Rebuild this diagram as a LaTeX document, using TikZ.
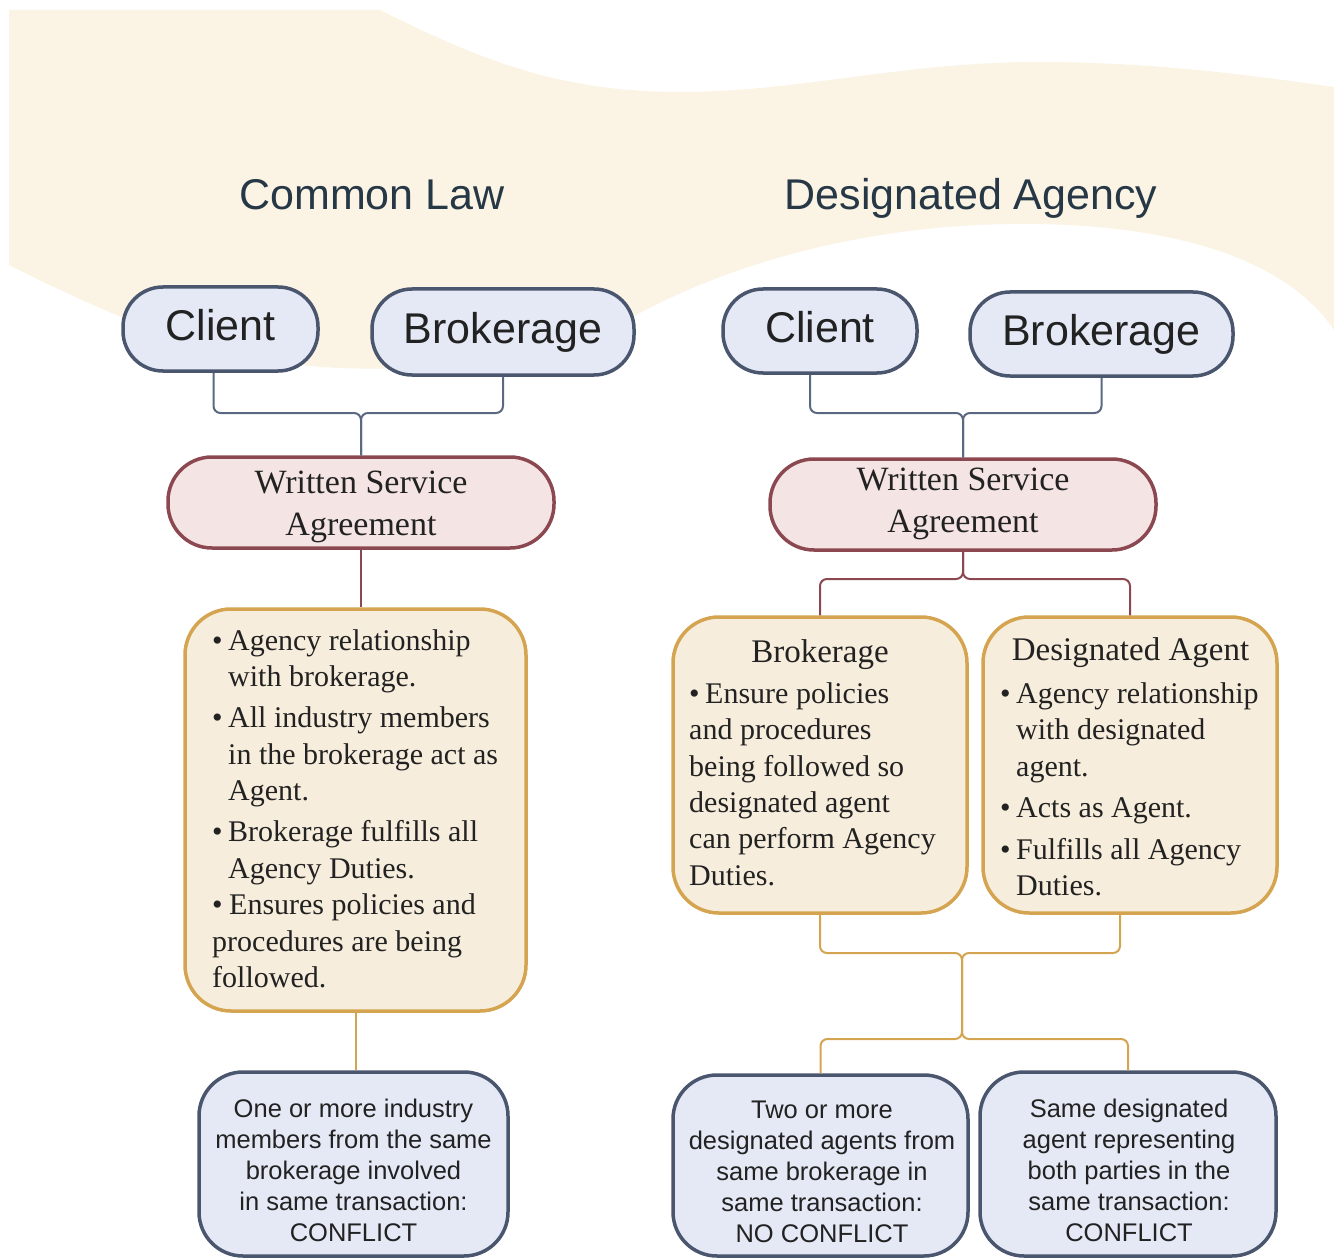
\documentclass[tikz,border=0pt]{standalone}
\usepackage{fontspec}
\setmainfont{Liberation Serif}
\newfontfamily\sansf{Liberation Sans}
\usetikzlibrary{calc}
\definecolor{bgBeige}{HTML}{FBF3E4}
\definecolor{blueFill}{HTML}{E4E9F5}
\definecolor{blueLine}{HTML}{4A556E}
\definecolor{pinkFill}{HTML}{F5E4E4}
\definecolor{pinkLine}{HTML}{8C4850}
\definecolor{goldFill}{HTML}{F7EDDC}
\definecolor{goldLine}{HTML}{D4A450}
\definecolor{titleCol}{HTML}{263746}
\definecolor{connBlue}{HTML}{5A6882}
\definecolor{textDark}{HTML}{222222}
\newcommand\tstrut{\rule{0pt}{30pt}}
\newcommand\bul{\makebox[16pt][l]{•}}
\newcommand\hang{\hspace*{16pt}}
\begin{document}
\begin{tikzpicture}[x=1pt,y=-1pt,
  titletext/.style={font=\sansf\fontsize{43}{50}\selectfont, text=titleCol, inner sep=0, anchor=base},
  pillbox/.style={draw=blueLine, fill=blueFill, line width=3.5pt, rounded corners=40pt, inner sep=0,
     font=\sansf\fontsize{43}{50}\selectfont, text=textDark, text height=31pt, text depth=9pt},
  pinkbox/.style={draw=pinkLine, fill=pinkFill, line width=3.5pt, rounded corners=44pt, inner sep=0},
  goldbox/.style={draw=goldLine, fill=goldFill, line width=3.5pt, rounded corners=46pt, inner sep=0},
  bluebox/.style={draw=blueLine, fill=blueFill, line width=3.5pt, rounded corners=44pt, inner sep=0},
  serifbig/.style={font=\fontsize{34}{42}\selectfont, text=textDark, inner sep=0, align=center, anchor=north},
  seriftext/.style={font=\fontsize{30}{36.5}\selectfont, text=textDark, inner sep=0, align=left, anchor=north west},
  seriftitle/.style={font=\fontsize{33}{40}\selectfont, text=textDark, inner sep=0, anchor=base},
  sanstext/.style={font=\sansf\fontsize{25.5}{31}\selectfont, text=textDark, inner sep=0, align=center, anchor=north},
  conn/.style={line width=2pt, rounded corners=7pt}
]
\useasboundingbox (0,0) rectangle (1334,1260);
% background wave
\fill[bgBeige] (9,10) -- (380,10)
  .. controls (480,60) and (560,92) .. (680,92)
  .. controls (800,92) and (900,62) .. (1040,62)
  .. controls (1150,62) and (1250,75) .. (1334,87)
  -- (1334,330)
  .. controls (1280,250) and (1150,222) .. (1010,224)
  .. controls (850,226) and (720,270) .. (640,313)
  .. controls (560,355) and (450,372) .. (340,368)
  .. controls (200,362) and (80,300) .. (9,265) -- cycle;

% titles
\node[titletext] (t1) at (372,210) {Common Law};
\node[titletext] (t2) at (971,210) {Designated Agency};

% pills
\node[pillbox, minimum width=195pt, minimum height=84pt] (cl1) at (220.5,329) {Client};
\node[pillbox, minimum width=262pt, minimum height=86pt] (br1) at (503,332) {Brokerage};
\node[pillbox, minimum width=194pt, minimum height=84pt] (cl2) at (820,331) {Client};
\node[pillbox, minimum width=263pt, minimum height=84pt] (br2) at (1101.5,334) {Brokerage};

% written service agreements
\node[pinkbox, minimum width=386pt, minimum height=91pt] (w1) at (361,502.5) {};
\node[serifbig] (w1t) at (361,463) {\tstrut Written Service\\Agreement};
\node[pinkbox, minimum width=386pt, minimum height=91pt] (w2) at (963,504.5) {};
\node[serifbig] (w2t) at (963,460) {\tstrut Written Service\\Agreement};

% gold boxes
\node[goldbox, minimum width=341pt, minimum height=402pt] (o1) at (355.5,810) {};
\node[seriftext] (o1t) at (212,620) {\tstrut\bul Agency relationship\\
\hang with brokerage.\\[4.5pt]
\bul All industry members\\
\hang in the brokerage act as\\
\hang Agent.\\[4.5pt]
\bul Brokerage fulfills all\\
\hang Agency Duties.\\
\makebox[17pt][l]{•}Ensures policies and\\
procedures are being\\
followed.};

\node[goldbox, minimum width=294pt, minimum height=296pt] (o2) at (820,765) {};
\node[seriftitle] (o2h) at (820,662) {Brokerage};
\node[seriftext, font=\fontsize{30}{36.4}\selectfont] (o2t) at (689,673) {\tstrut\bul Ensure policies\\
and procedures\\
being followed so\\
designated agent\\
can perform Agency\\
Duties.};

\node[goldbox, minimum width=294pt, minimum height=296pt] (o3) at (1130,765) {};
\node[seriftitle] (o3h) at (1130.5,660) {Designated Agent};
\node[seriftext] (o3t) at (1000,673) {\tstrut\bul Agency relationship\\
\hang with designated\\
\hang agent.\\[5pt]
\bul Acts as Agent.\\[5pt]
\bul Fulfills all Agency\\
\hang Duties.};

% bottom blue boxes
\node[bluebox, minimum width=309pt, minimum height=184pt] (b1) at (353.5,1164) {};
\node[sanstext] (b1t) at (353.5,1087) {\tstrut One or more industry\\members from the same\\brokerage involved\\in same transaction:\\CONFLICT};
\node[bluebox, minimum width=295pt, minimum height=181pt] (b2) at (820.5,1165.5) {};
\node[sanstext] (b2t) at (822,1088) {\tstrut Two or more\\designated agents from\\same brokerage in\\same transaction:\\NO CONFLICT};
\node[bluebox, minimum width=296pt, minimum height=184pt] (b3) at (1128,1164) {};
\node[sanstext] (b3t) at (1129,1087) {\tstrut Same designated\\agent representing\\both parties in the\\same transaction:\\CONFLICT};

% connectors
\coordinate (j1) at (361,413);
\coordinate (j1r) at (963,413);
\coordinate (j2) at (963,579);
\coordinate (j3) at (962,953);
\coordinate (j4) at (962,1039);

\draw[conn, connBlue] ([xshift=-7pt]cl1.south) |- (j1) -- (w1.north);
\draw[conn, connBlue] (br1.south) |- (j1) -- (w1.north);
\draw[conn, connBlue] ([xshift=-10pt]cl2.south) |- (j1r) -- (w2.north);
\draw[conn, connBlue] (br2.south) |- (j1r) -- (w2.north);

\draw[conn, pinkLine] (w1.south) -- (w1.south |- o1.north);
\draw[conn, pinkLine] (w2.south) -- (j2) -| (o2.north);
\draw[conn, pinkLine] (w2.south) -- (j2) -| (o3.north);

\draw[conn, goldLine] (o1.south) -- (o1.south |- b1.north);
\draw[conn, goldLine] (o2.south) |- (j3) -- (j4) -| (b2.north);
\draw[conn, goldLine] ([xshift=-10pt]o3.south) |- (j3) -- (j4) -| (b3.north);
\end{tikzpicture}
\end{document}
